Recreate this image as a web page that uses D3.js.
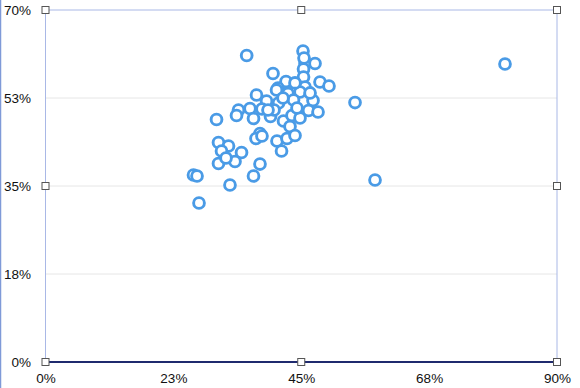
<!DOCTYPE html>
<html><head><meta charset="utf-8">
<script src="https://cdn.jsdelivr.net/npm/d3@7"></script>
<style>body{margin:0;background:#fff}svg{display:block}text{font-family:"Liberation Sans",Arial,sans-serif}</style>
</head><body><svg id="c" width="580" height="388"></svg>
<script>
const xValues = [35.40,45.31,45.66,47.42,45.40,40.03,45.40,45.66,48.30,49.88,42.32,40.91,54.46,37.13,40.65,42.67,44.78,47.07,43.64,41.00,38.89,35.98,33.96,46.28,47.95,30.09,33.61,36.60,39.59,41.88,43.37,44.78,43.02,37.74,37.04,38.09,40.73,42.49,43.90,41.53,30.44,32.20,30.97,34.49,33.34,30.44,37.74,36.60,26.04,26.66,32.46,27.01,57.98,80.85,45.49,44.25,38.09,40.21,31.76,46.55,41.79,39.15,43.90];
const yValues = [60.95,61.85,59.46,59.36,58.27,57.37,56.68,54.69,55.68,54.89,55.78,54.49,51.60,53.10,54.09,53.39,53.69,52.00,52.10,51.51,51.90,50.41,50.11,50.01,49.72,48.22,49.02,48.42,48.82,47.93,49.02,48.52,46.83,45.44,44.45,44.94,43.95,44.45,45.04,41.96,43.65,42.95,41.96,41.66,39.87,39.47,39.37,36.99,37.19,36.99,35.20,31.62,36.19,59.26,60.45,50.51,50.31,50.11,40.57,53.50,52.50,50.11,55.50];
const xTicks = [0,22.5,45,67.5,90];
const yTicks = [0,17.5,35,52.5,70];
const tickLabel = v => Math.round(v) + "%";

const svg = d3.select("#c");
const L=45.5, R=557, T=10, B=362;
const x = d3.scaleLinear().domain([0,90]).range([L,R]);
const y = d3.scaleLinear().domain([0,70]).range([B,T]);

svg.append("line").attr("x1",0.5).attr("x2",0.5).attr("y1",0).attr("y2",388).attr("stroke","#7f9ad8").attr("stroke-width",1.5);

svg.append("g").selectAll("line").data(yTicks.filter(t=>t>0&&t<70)).join("line")
  .attr("x1",L).attr("x2",R).attr("y1",d=>y(d)).attr("y2",d=>y(d))
  .attr("stroke","#e6e6e6").attr("stroke-width",1);

svg.append("path").attr("d",`M${L},${B}V${T}H${R}V${B}`).attr("fill","none").attr("stroke","#a9b8e6").attr("stroke-width",1);

const ya = svg.append("g").attr("transform",`translate(31,0)`)
  .call(d3.axisLeft(y).tickValues(yTicks).tickFormat(tickLabel).tickSize(0).tickPadding(0));
ya.select(".domain").remove();
ya.selectAll("text").attr("font-size","13.5px").attr("fill","#111").attr("font-family","'Liberation Sans',Arial,sans-serif");

const xa = svg.append("g").attr("transform",`translate(0,${B})`)
  .call(d3.axisBottom(x).tickValues(xTicks).tickFormat(tickLabel).tickSize(0).tickPadding(11));
xa.select(".domain").remove();
xa.selectAll("text").attr("font-size","13.5px").attr("fill","#111").attr("font-family","'Liberation Sans',Arial,sans-serif");

svg.append("line").attr("x1",L).attr("x2",R).attr("y1",B).attr("y2",B).attr("stroke","#1f2a6e").attr("stroke-width",2);

const pts = xValues.map((v,i)=>({x:v,y:yValues[i]}));
svg.append("g").selectAll("circle").data(pts).join("circle")
  .attr("cx",d=>x(d.x)).attr("cy",d=>y(d.y)).attr("r",5.4)
  .attr("fill","#fff").attr("stroke","#4a9be6").attr("stroke-width",2.9);

const hx=[L,(L+R)/2,R], hy=[T,(T+B)/2,B];
const handles=[];
hx.forEach((a,i)=>hy.forEach((b,j)=>{ if(!(i===1&&j===1)) handles.push([a,b]); }));
svg.append("g").selectAll("rect").data(handles).join("rect")
  .attr("x",d=>d[0]-3.5).attr("y",d=>d[1]-3.5).attr("width",7).attr("height",7)
  .attr("fill","#fff").attr("stroke","#555").attr("stroke-width",1);
</script></body></html>
